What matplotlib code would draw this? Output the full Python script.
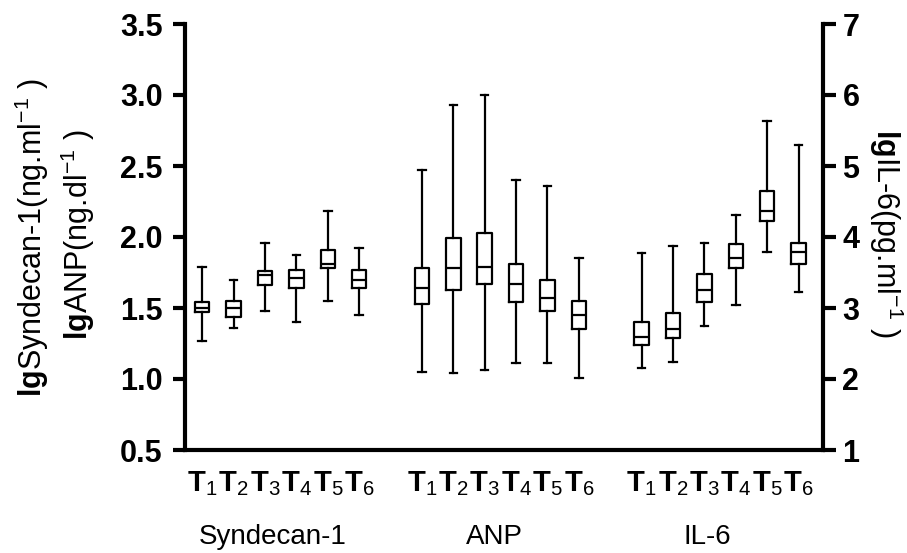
import matplotlib
matplotlib.use("Agg")
import matplotlib.pyplot as plt
import matplotlib.transforms as mtransforms

plt.rcParams['font.family'] = ['Liberation Sans', 'DejaVu Sans']
plt.rcParams['mathtext.fontset'] = 'custom'
plt.rcParams['mathtext.rm'] = 'Liberation Sans'
plt.rcParams['mathtext.bf'] = 'Liberation Sans:bold'
plt.rcParams['mathtext.it'] = 'Liberation Sans:italic'

GROUPS = ['Syndecan-1', 'ANP', 'IL-6']
TIMES = ['1', '2', '3', '4', '5', '6']

# box stats (left axis for Syndecan-1 and ANP, right axis for IL-6)
syn_whislo = [1.27, 1.36, 1.48, 1.40, 1.55, 1.45]
syn_q1 = [1.47, 1.44, 1.66, 1.64, 1.78, 1.64]
syn_med = [1.50, 1.50, 1.73, 1.71, 1.81, 1.70]
syn_q3 = [1.54, 1.55, 1.76, 1.77, 1.91, 1.77]
syn_whishi = [1.79, 1.70, 1.96, 1.87, 2.18, 1.92]

anp_whislo = [1.05, 1.04, 1.06, 1.11, 1.11, 1.01]
anp_q1 = [1.53, 1.63, 1.67, 1.54, 1.48, 1.35]
anp_med = [1.64, 1.78, 1.79, 1.67, 1.57, 1.45]
anp_q3 = [1.78, 1.99, 2.03, 1.81, 1.70, 1.55]
anp_whishi = [2.47, 2.93, 3.00, 2.40, 2.36, 1.85]

il6_whislo = [2.16, 2.24, 2.74, 3.04, 3.79, 3.23]
il6_q1 = [2.48, 2.58, 3.09, 3.56, 4.23, 3.62]
il6_med = [2.59, 2.71, 3.25, 3.70, 4.37, 3.79]
il6_q3 = [2.80, 2.93, 3.48, 3.90, 4.65, 3.92]
il6_whishi = [3.77, 3.87, 3.92, 4.31, 5.63, 5.29]

LEFT_TICKS = [0.5, 1.0, 1.5, 2.0, 2.5, 3.0, 3.5]
RIGHT_TICKS = [1, 2, 3, 4, 5, 6, 7]

BOX_W = 0.46
CAP_W = 0.24
LW = 1.6
SPINE_LW = 3.0
LABEL_FS = 22


def make_stats(lo, q1, med, q3, hi):
    return [dict(whislo=a, q1=b, med=c, q3=d, whishi=e, fliers=[])
            for a, b, c, d, e in zip(lo, q1, med, q3, hi)]


def draw(ax, stats, positions):
    ax.bxp(stats, positions=positions, widths=BOX_W, capwidths=CAP_W,
           showfliers=False, patch_artist=False,
           boxprops=dict(color='black', linewidth=LW),
           medianprops=dict(color='black', linewidth=LW),
           whiskerprops=dict(color='black', linewidth=LW),
           capprops=dict(color='black', linewidth=LW), manage_ticks=False)


fig = plt.figure(figsize=(9.07, 5.53), dpi=100)
ax = fig.add_axes([185 / 907, 1 - 450 / 553, (823 - 185) / 907, 426 / 553])
ax2 = ax.twinx()

pos_syn = list(range(0, 6))
pos_anp = list(range(7, 13))
pos_il6 = list(range(14, 20))

draw(ax, make_stats(syn_whislo, syn_q1, syn_med, syn_q3, syn_whishi), pos_syn)
draw(ax, make_stats(anp_whislo, anp_q1, anp_med, anp_q3, anp_whishi), pos_anp)
draw(ax2, make_stats(il6_whislo, il6_q1, il6_med, il6_q3, il6_whishi), pos_il6)

ax.set_xlim(-0.55, 19.78)
ax.set_ylim(0.5, 3.5)
ax2.set_ylim(1, 7)
ax.set_yticks(LEFT_TICKS)
ax.set_yticklabels([f"{v:.1f}" for v in LEFT_TICKS], fontsize=LABEL_FS, fontweight='bold')
ax2.set_yticks(RIGHT_TICKS)
ax2.set_yticklabels([str(v) for v in RIGHT_TICKS], fontsize=LABEL_FS, fontweight='bold')

xt = pos_syn + pos_anp + pos_il6
ax.set_xticks(xt)
ax.set_xticklabels([r'$\mathbf{T}_{%s}$' % t for t in TIMES] * 3, fontsize=21)
ax.tick_params(axis='x', length=0, pad=14)
ax.tick_params(axis='y', length=9, width=SPINE_LW, pad=7)
ax2.tick_params(axis='y', length=9, width=SPINE_LW, pad=5)

for a in (ax, ax2):
    a.spines['top'].set_visible(False)
    for s in ('left', 'right', 'bottom'):
        a.spines[s].set_linewidth(SPINE_LW)
ax.spines['right'].set_visible(False)
ax2.spines['left'].set_visible(False)
ax2.spines['bottom'].set_visible(False)

trans = mtransforms.blended_transform_factory(ax.transData, ax.transAxes)
for name, x in zip(GROUPS, [2.26, 9.3, 16.1]):
    ax.text(x, -0.205, name, transform=trans, ha='center', va='center', fontsize=20)

fig.text(32 / 907, 1 - 238 / 553, r'$\mathbf{lg}$Syndecan-1(ng.ml$^{-1}$ )',
         rotation=90, ha='center', va='center', fontsize=LABEL_FS)
fig.text(78 / 907, 1 - 235 / 553, r'$\mathbf{lg}$ANP(ng.dl$^{-1}$ )',
         rotation=90, ha='center', va='center', fontsize=LABEL_FS)
fig.text(886 / 907, 1 - 233 / 553, r'$\mathbf{lg}$IL-6(pg.ml$^{-1}$ )',
         rotation=270, ha='center', va='center', fontsize=LABEL_FS)

fig.savefig('out.png', dpi=100)
